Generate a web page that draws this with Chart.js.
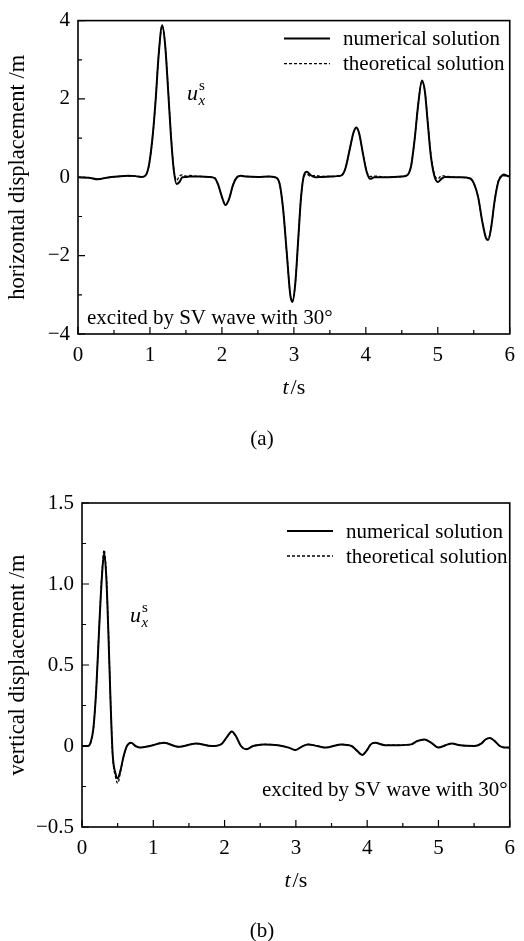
<!DOCTYPE html>
<html>
<head>
<meta charset="utf-8">
<script src="https://cdn.jsdelivr.net/npm/chart.js@4.4.1/dist/chart.umd.min.js"></script>
<style>
  html, body { margin: 0; padding: 0; background: #fff; }
  .box { position: absolute; left: 0; width: 524px; }
  #boxA { top: 0; height: 460px; }
  #boxB { top: 460px; height: 481px; }
</style>
</head>
<body>
<div class="box" id="boxA"><canvas id="chartA"></canvas></div>
<div class="box" id="boxB"><canvas id="chartB"></canvas></div>
<script>
/* ---- data ---- */
const seriesNames = ['numerical solution', 'theoretical solution'];
const xMajor = [0, 1, 2, 3, 4, 5, 6];
const xMinor = [0.5, 1.5, 2.5, 3.5, 4.5, 5.5];
const yMajorA = [-4, -2, 0, 2, 4];
const yMinorA = [-3, -1, 1, 3];
const yMajorB = [-0.5, 0, 0.5, 1.0, 1.5];
const yMinorB = [-0.25, 0.25, 0.75, 1.25];

// (a) horizontal displacement
const tA = [0, 0.15, 0.28, 0.4, 0.55, 0.7, 0.8, 0.88, 0.94, 0.99,
  1.04, 1.08, 1.12, 1.17, 1.21, 1.25, 1.29, 1.33, 1.37, 1.41,
  1.45, 1.5, 1.55, 1.62, 1.7, 1.82, 1.9, 1.95, 2.0, 2.05,
  2.1, 2.15, 2.2, 2.26, 2.34, 2.5, 2.65, 2.74, 2.8, 2.85,
  2.9, 2.95, 2.98, 3.02, 3.06, 3.1, 3.14, 3.18, 3.23, 3.3,
  3.38, 3.5, 3.6, 3.67, 3.72, 3.78, 3.83, 3.87, 3.91, 3.96,
  4.01, 4.06, 4.12, 4.3, 4.5, 4.58, 4.63, 4.68, 4.73, 4.78,
  4.82, 4.86, 4.9, 4.95, 5.0, 5.05, 5.1, 5.3, 5.45, 5.5,
  5.56, 5.62, 5.67, 5.7, 5.74, 5.79, 5.84, 5.88, 5.92, 5.96, 6.0];
const numA = [0, -0.01, -0.05, -0.01, 0.02, 0.04, 0.03, 0.01, 0.05, 0.35,
  1.1, 2.0, 3.1, 3.88, 3.4, 2.3, 1.1, 0.2, -0.17, -0.12,
  0.0, 0.01, 0.02, 0.02, 0.02, 0.01, -0.02, -0.2, -0.5, -0.71,
  -0.55, -0.22, -0.02, 0.04, 0.02, 0.01, 0.02, 0.0, -0.15, -0.8,
  -1.9, -3.0, -3.18, -2.7, -1.6, -0.5, 0.05, 0.14, 0.06, 0.0,
  0.01, 0.02, 0.03, 0.06, 0.25, 0.75, 1.15, 1.27, 1.1, 0.6,
  0.15, -0.04, 0.0, 0.0, 0.02, 0.06, 0.3, 1.0, 1.9, 2.47,
  2.2, 1.4, 0.6, 0.05, -0.12, -0.04, 0.01, 0.0, -0.03, -0.15,
  -0.5, -1.15, -1.55, -1.6, -1.3, -0.6, -0.12, 0.02, 0.07, 0.04, 0.02];
const theoA = [0, -0.01, -0.04, -0.01, 0.02, 0.03, 0.03, 0.01, 0.05, 0.33,
  1.08, 2.0, 3.1, 3.86, 3.42, 2.35, 1.15, 0.25, -0.08, 0.03,
  0.06, 0.03, 0.05, 0.03, 0.02, 0.01, -0.02, -0.2, -0.5, -0.7,
  -0.55, -0.22, 0.0, 0.03, 0.02, 0.01, 0.02, 0.0, -0.15, -0.8,
  -1.9, -3.0, -3.15, -2.7, -1.6, -0.5, 0.02, 0.08, 0.03, 0.05,
  0.02, 0.02, 0.03, 0.06, 0.25, 0.75, 1.15, 1.25, 1.1, 0.6,
  0.17, 0.02, 0.03, 0.0, 0.02, 0.06, 0.3, 1.0, 1.9, 2.45,
  2.2, 1.45, 0.65, 0.1, -0.04, 0.04, 0.03, 0.0, -0.03, -0.15,
  -0.5, -1.15, -1.55, -1.58, -1.3, -0.6, -0.1, 0.03, 0.04, 0.03, 0.02];

// (b) vertical displacement
const tB = [0, 0.08, 0.12, 0.16, 0.2, 0.24, 0.28, 0.31, 0.34, 0.37,
  0.4, 0.43, 0.47, 0.5, 0.54, 0.58, 0.63, 0.69, 0.75, 0.82,
  0.95, 1.15, 1.35, 1.6, 1.82, 1.95, 2.04, 2.1, 2.16, 2.23,
  2.3, 2.4, 2.55, 2.75, 2.9, 2.99, 3.08, 3.17, 3.3, 3.42,
  3.63, 3.78, 3.86, 3.93, 3.99, 4.05, 4.11, 4.25, 4.45, 4.62,
  4.7, 4.8, 4.9, 5.0, 5.1, 5.19, 5.3, 5.5, 5.6, 5.66,
  5.72, 5.79, 5.86, 5.93, 6.0];
const numB = [0, 0, 0.02, 0.11, 0.35, 0.72, 1.05, 1.19, 1.05, 0.7,
  0.28, -0.05, -0.17, -0.2, -0.15, -0.07, 0.0, 0.02, 0.0, -0.01,
  0.0, 0.02, -0.005, 0.015, 0.0, 0.01, 0.06, 0.09, 0.06, 0.0,
  -0.02, 0.0, 0.01, 0.005, -0.01, -0.025, -0.005, 0.01, 0.0, -0.01,
  0.01, 0.0, -0.03, -0.055, -0.03, 0.01, 0.02, 0.005, 0.005, 0.01,
  0.03, 0.04, 0.02, -0.01, 0.005, 0.015, 0.005, 0.0, 0.015, 0.04,
  0.05, 0.03, 0.0, -0.01, -0.01];
const theoB = [0, 0, 0.02, 0.11, 0.35, 0.73, 1.07, 1.21, 1.07, 0.72,
  0.29, -0.06, -0.19, -0.23, -0.16, -0.07, 0.0, 0.02, 0.0, -0.01,
  0.0, 0.02, -0.005, 0.015, 0.0, 0.01, 0.06, 0.09, 0.06, 0.0,
  -0.02, 0.0, 0.01, 0.005, -0.01, -0.025, -0.005, 0.01, 0.0, -0.01,
  0.01, 0.0, -0.03, -0.055, -0.03, 0.01, 0.02, 0.005, 0.005, 0.01,
  0.03, 0.04, 0.02, -0.01, 0.005, 0.015, 0.005, 0.0, 0.015, 0.04,
  0.05, 0.03, 0.0, -0.01, -0.01];

/* ---- helpers ---- */
const SERIF = '"Liberation Serif", "Times New Roman", serif';

function pts(ts, vs) {
  return ts.map((t, i) => ({ x: t, y: vs[i] }));
}

function minusSign(s) {
  return String(s).replace('-', '\u2212');
}

// frame, inward ticks, legend and the text bits the figure carries
function decor(cfg) {
  return {
    id: 'decor',
    afterDraw(chart) {
      const { ctx, chartArea: a, scales: { x, y } } = chart;
      ctx.save();
      ctx.strokeStyle = '#000';
      ctx.fillStyle = '#000';

      ctx.lineWidth = 1.2;
      ctx.beginPath();
      xMajor.forEach(v => { const p = x.getPixelForValue(v); ctx.moveTo(p, a.bottom); ctx.lineTo(p, a.bottom - 7); });
      xMinor.forEach(v => { const p = x.getPixelForValue(v); ctx.moveTo(p, a.bottom); ctx.lineTo(p, a.bottom - 4); });
      cfg.yMajor.forEach(v => { const p = y.getPixelForValue(v); ctx.moveTo(a.left, p); ctx.lineTo(a.left + 7, p); });
      cfg.yMinor.forEach(v => { const p = y.getPixelForValue(v); ctx.moveTo(a.left, p); ctx.lineTo(a.left + 4, p); });
      ctx.stroke();

      ctx.lineWidth = 1.6;
      ctx.strokeRect(a.left, a.top, a.right - a.left, a.bottom - a.top);

      // legend
      ctx.font = '21px ' + SERIF;
      ctx.textBaseline = 'middle';
      chart.data.datasets.forEach((ds, i) => {
        const ly = a.top + cfg.legendTop + i * 25;
        const lx = a.left + cfg.legendLeft;
        ctx.beginPath();
        ctx.lineWidth = ds.borderWidth;
        ctx.setLineDash(ds.borderDash || []);
        ctx.moveTo(lx, ly);
        ctx.lineTo(lx + 46, ly);
        ctx.stroke();
        ctx.setLineDash([]);
        ctx.fillText(ds.label, lx + 59, ly + 1);
      });

      // u_x^s label
      ctx.textBaseline = 'alphabetic';
      ctx.font = 'italic 22px ' + SERIF;
      ctx.fillText('u', cfg.uAt[0], cfg.uAt[1]);
      const uw = ctx.measureText('u').width;
      ctx.font = 'italic 15px ' + SERIF;
      ctx.fillText('x', cfg.uAt[0] + uw + 0.5, cfg.uAt[1] + 5);
      ctx.font = '15px ' + SERIF;
      ctx.fillText('s', cfg.uAt[0] + uw + 1, cfg.uAt[1] - 10);

      // note
      ctx.font = '21px ' + SERIF;
      ctx.fillText('excited by SV wave with 30\u00b0', cfg.noteAt[0], cfg.noteAt[1]);

      // x title  t/s
      const cx = (a.left + a.right) / 2;
      ctx.font = 'italic 22px ' + SERIF;
      const tw = ctx.measureText('t').width;
      ctx.font = '22px ' + SERIF;
      const sw = ctx.measureText('/s').width;
      const x0 = cx - (tw + sw + 2) / 2;
      ctx.font = 'italic 22px ' + SERIF;
      ctx.fillText('t', x0, a.bottom + cfg.xTitleDy);
      ctx.font = '22px ' + SERIF;
      ctx.fillText('/s', x0 + tw + 2, a.bottom + cfg.xTitleDy);

      // panel caption
      ctx.textAlign = 'center';
      ctx.font = '21px ' + SERIF;
      ctx.fillText(cfg.caption, 262, a.bottom + cfg.captionDy);
      ctx.restore();
    }
  };
}

function makeChart(id, t, num, theo, cfg) {
  return new Chart(document.getElementById(id), {
    type: 'line',
    data: {
      datasets: [
        { label: seriesNames[0], data: pts(t, num), borderColor: '#000', borderWidth: 2,
          pointRadius: 0, cubicInterpolationMode: 'monotone', fill: false },
        { label: seriesNames[1], data: pts(t, theo), borderColor: '#000', borderWidth: 1.3,
          borderDash: [3, 2], pointRadius: 0, cubicInterpolationMode: 'monotone', fill: false }
      ]
    },
    options: {
      responsive: true,
      maintainAspectRatio: false,
      animation: false,
      devicePixelRatio: 1,
      layout: { padding: cfg.padding },
      plugins: { legend: { display: false }, tooltip: { enabled: false } },
      scales: {
        x: {
          type: 'linear', min: 0, max: 6,
          afterBuildTicks: s => { s.ticks = xMajor.map(v => ({ value: v })); },
          afterFit: s => { s.height = cfg.xHeight; },
          grid: { display: false, drawTicks: false },
          border: { display: false },
          ticks: { color: '#000', padding: 9, font: { family: SERIF, size: 21 }, callback: v => minusSign(v) }
        },
        y: {
          type: 'linear', min: cfg.yMajor[0], max: cfg.yMajor[cfg.yMajor.length - 1],
          afterBuildTicks: s => { s.ticks = cfg.yMajor.map(v => ({ value: v })); },
          afterFit: s => { s.width = cfg.yWidth; },
          grid: { display: false, drawTicks: false },
          border: { display: false },
          ticks: { color: '#000', padding: 8, font: { family: SERIF, size: 21 }, callback: cfg.yFmt },
          title: { display: true, text: cfg.yTitle, color: '#000', padding: { top: 5 },
            font: { family: SERIF, size: 22.5 } }
        }
      }
    },
    plugins: [decor(cfg)]
  });
}

makeChart('chartA', tA, numA, theoA, {
  padding: { left: 0, top: 14, right: 9, bottom: 0 },
  xHeight: 126, yWidth: 78,
  yMajor: yMajorA, yMinor: yMinorA,
  yFmt: v => minusSign(v),
  yTitle: 'horizontal displacement /m',
  legendLeft: 206, legendTop: 18,
  uAt: [187, 100], noteAt: [87, 324],
  xTitleDy: 60, caption: '(a)', captionDy: 111
});

makeChart('chartB', tB, numB, theoB, {
  padding: { left: 0, top: 43, right: 7, bottom: 0 },
  xHeight: 114, yWidth: 82,
  yMajor: yMajorB, yMinor: yMinorB,
  yFmt: v => v === 0 ? '0' : minusSign(v.toFixed(1)),
  yTitle: 'vertical displacement /m',
  legendLeft: 205, legendTop: 28,
  uAt: [130, 162], noteAt: [262, 336],
  xTitleDy: 60, caption: '(b)', captionDy: 110
});
</script>
</body>
</html>
